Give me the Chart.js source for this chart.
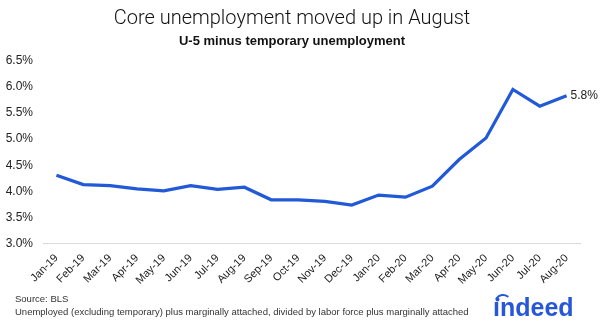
<!DOCTYPE html>
<html>
<head>
<meta charset="utf-8">
<script src="https://cdn.jsdelivr.net/npm/chart.js@4"></script>
<style>
  html, body { margin: 0; padding: 0; background: #fff; }
  #wrap { width: 600px; height: 328px; position: relative; }
</style>
</head>
<body>
<div id="wrap"><canvas id="lineChart"></canvas></div>
<script>
// Chart data
const months = ["Jan-19", "Feb-19", "Mar-19", "Apr-19", "May-19", "Jun-19", "Jul-19", "Aug-19",
  "Sep-19", "Oct-19", "Nov-19", "Dec-19", "Jan-20", "Feb-20", "Mar-20", "Apr-20",
  "May-20", "Jun-20", "Jul-20", "Aug-20"];
const coreRate = [4.31, 4.13, 4.11, 4.05, 4.01, 4.11, 4.04, 4.08, 3.84, 3.84,
  3.81, 3.74, 3.93, 3.89, 4.10, 4.61, 5.02, 5.95, 5.63, 5.83];
const yTicks = [3.0, 3.5, 4.0, 4.5, 5.0, 5.5, 6.0, 6.5];

const titleText = "Core unemployment moved up in August";
const subtitleText = "U-5 minus temporary unemployment";
const sourceLines = [
  "Source: BLS",
  "Unemployed (excluding temporary) plus marginally attached, divided by labor force plus marginally attached",
];

const lineBlue = "#2159d6";

// last point label + footer + logo
const extrasPlugin = {
  id: "extras",
  afterDatasetsDraw(chart) {
    const ctx = chart.ctx;
    const meta = chart.getDatasetMeta(0);
    const last = meta.data[meta.data.length - 1];
    ctx.save();
    ctx.font = "12px 'Liberation Sans', Arial, sans-serif";
    ctx.fillStyle = "#222";
    ctx.textBaseline = "middle";
    ctx.textAlign = "left";
    ctx.fillText(coreRate[coreRate.length - 1].toFixed(1) + "%", last.x + 4, last.y);
    ctx.restore();
  },
  afterDraw(chart) {
    const ctx = chart.ctx;
    ctx.save();
    ctx.font = "9.5px 'Liberation Sans', Arial, sans-serif";
    ctx.fillStyle = "#333";
    ctx.textAlign = "left";
    ctx.textBaseline = "alphabetic";
    ctx.fillText(sourceLines[0], 15, 302);
    ctx.fillText(sourceLines[1], 15, 315);

    // indeed logo
    ctx.fillStyle = "#2557d6";
    ctx.font = "bold 25px 'Liberation Sans', Arial, sans-serif";
    ctx.fillText("\u0131ndeed", 493, 316);
    ctx.strokeStyle = "#2557d6";
    ctx.lineWidth = 2;
    ctx.lineCap = "round";
    ctx.beginPath();
    ctx.arc(503, 303, 8, Math.PI * 1.2, Math.PI * 1.7);
    ctx.stroke();
    ctx.beginPath();
    ctx.arc(497.5, 299.5, 2, 0, Math.PI * 2);
    ctx.fill();
    ctx.restore();
  },
};

const ctx = document.getElementById("lineChart").getContext("2d");
new Chart(ctx, {
  type: "line",
  data: {
    labels: months,
    datasets: [
      {
        data: coreRate,
        borderColor: lineBlue,
        borderWidth: 3.2,
        pointRadius: 0,
        tension: 0,
      },
    ],
  },
  options: {
    responsive: true,
    maintainAspectRatio: false,
    animation: false,
    layout: { padding: { left: 4, right: 20, top: 0, bottom: 33 } },
    plugins: {
      legend: { display: false },
      tooltip: { enabled: false },
      title: {
        display: true,
        text: titleText,
        color: "#111",
        font: { family: "Roboto", size: 20, weight: "300" },
        padding: { top: 7, bottom: 3 },
      },
      subtitle: {
        display: true,
        text: subtitleText,
        color: "#111",
        font: { family: "'Liberation Sans', Arial", size: 13, weight: "bold" },
        padding: { bottom: 11 },
      },
    },
    scales: {
      x: {
        offset: true,
        grid: { display: false, drawTicks: false },
        border: { display: true, color: "#d9d9d9", width: 1 },
        ticks: {
          color: "#222",
          font: { family: "'Liberation Sans', Arial", size: 11 },
          minRotation: 45,
          maxRotation: 45,
          autoSkip: false,
          padding: 8,
        },
      },
      y: {
        min: 3,
        max: 6.5,
        afterBuildTicks(axis) {
          axis.ticks = yTicks.map((v) => ({ value: v }));
        },
        afterFit(axis) {
          axis.width = 39;
        },
        grid: { display: false, drawTicks: false },
        border: { display: false },
        ticks: {
          color: "#222",
          font: { family: "'Liberation Sans', Arial", size: 12 },
          padding: 10,
          callback: (v) => v.toFixed(1) + "%",
        },
      },
    },
  },
  plugins: [extrasPlugin],
});
</script>
</body>
</html>
